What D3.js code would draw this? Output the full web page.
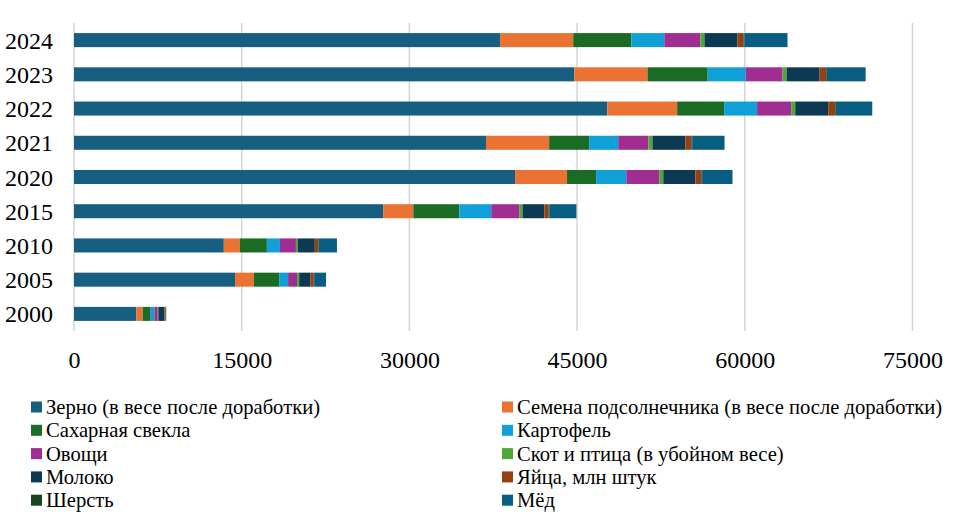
<!DOCTYPE html>
<html>
<head>
<meta charset="utf-8">
<script src="https://cdn.jsdelivr.net/npm/d3@7"></script>
<style>
  body { margin: 0; background: #fff; }
</style>
</head>
<body>
<svg id="chart" width="956" height="525"></svg>
<script>
// years, top to bottom as in the picture
var years = ['2024', '2023', '2022', '2021', '2020', '2015', '2010', '2005', '2000'];

var grain     = [38100, 44750, 47700, 36850, 39450, 27650, 13400, 14400, 5570];
var sunflower = [6550, 6550, 6250, 5650, 4650, 2700, 1430, 1700, 570];
var sugarBeet = [5200, 5380, 4200, 3580, 2600, 4120, 2420, 2250, 720];
var potato    = [2950, 3400, 2950, 2600, 2700, 2850, 1170, 800, 330];
var vegetable = [3230, 3300, 3050, 2700, 2950, 2530, 1430, 800, 300];
var livestock = [360, 360, 360, 360, 360, 270, 150, 190, 60];
var milk      = [2950, 2950, 2950, 2950, 2870, 1950, 1540, 990, 540];
var eggs      = [560, 600, 630, 540, 540, 380, 310, 300, 90];
var wool      = [60, 60, 60, 60, 60, 60, 50, 50, 40];
var honey     = [3860, 3460, 3250, 2900, 2720, 2430, 1620, 1060, 30];

var xTicks = [0, 15000, 30000, 45000, 60000, 75000];

var series = [
    {key: 'grain',     name: 'Зерно (в весе после доработки)',                values: grain,     color: '#165f80'},
    {key: 'sunflower', name: 'Семена подсолнечника (в весе после доработки)', values: sunflower, color: '#ea7334'},
    {key: 'sugarBeet', name: 'Сахарная свекла',                               values: sugarBeet, color: '#1b6b24'},
    {key: 'potato',    name: 'Картофель',                                     values: potato,    color: '#10a0d8'},
    {key: 'vegetable', name: 'Овощи',                                         values: vegetable, color: '#a02d91'},
    {key: 'livestock', name: 'Скот и птица (в убойном весе)',                 values: livestock, color: '#4ea833'},
    {key: 'milk',      name: 'Молоко',                                        values: milk,      color: '#0d3a52'},
    {key: 'eggs',      name: 'Яйца, млн штук',                                values: eggs,      color: '#944012'},
    {key: 'wool',      name: 'Шерсть',                                        values: wool,      color: '#17451f'},
    {key: 'honey',     name: 'Мёд',                                           values: honey,     color: '#085e82'}
];

var textStyle = function(size) {
    return "font-family:'Liberation Serif', serif;font-size:" + size + "px;fill:#000";
};

var rows = years.map(function(y, i) {
    var r = {year: y};
    series.forEach(function(s) { r[s.key] = s.values[i]; });
    return r;
});

var svg = d3.select('#chart');

var x = d3.scaleLinear().domain([0, 75000]).range([74, 912.5]);
var y = d3.scaleBand().domain(years).range([23, 331]).paddingInner(0.59).paddingOuter(0.295);

// grid
svg.append('g').selectAll('line')
    .data(xTicks)
    .join('line')
    .attr('x1', function(d) { return x(d); })
    .attr('x2', function(d) { return x(d); })
    .attr('y1', 23)
    .attr('y2', 331)
    .attr('stroke', '#d4d4d4')
    .attr('stroke-width', 1.5);

// stacked bars
var stack = d3.stack().keys(series.map(function(s) { return s.key; }));

svg.append('g').selectAll('g')
    .data(stack(rows))
    .join('g')
    .attr('fill', function(d, i) { return series[i].color; })
    .selectAll('rect')
    .data(function(d) { return d; })
    .join('rect')
    .attr('x', function(d) { return x(d[0]); })
    .attr('width', function(d) { return x(d[1]) - x(d[0]); })
    .attr('y', function(d) { return y(d.data.year); })
    .attr('height', y.bandwidth());

// x axis labels
var gx = svg.append('g').attr('transform', 'translate(0,368)')
    .call(d3.axisBottom(x).tickValues(xTicks).tickSize(0).tickPadding(0).tickFormat(d3.format('d')));
gx.attr('font-family', null).attr('font-size', null);
gx.select('.domain').remove();
gx.selectAll('text').attr('fill', null).attr('dy', null).attr('y', 0).attr('style', textStyle(24));

// y axis labels
var gy = svg.append('g').attr('transform', 'translate(53,0)')
    .call(d3.axisLeft(y).tickSize(0).tickPadding(0));
gy.attr('font-family', null).attr('font-size', null);
gy.select('.domain').remove();
gy.selectAll('text').attr('fill', null).attr('dy', null).attr('y', 8.5).attr('style', textStyle(24));

// legend, two columns
var legend = svg.append('g').selectAll('g')
    .data(series)
    .join('g')
    .attr('transform', function(d, i) {
        var col = i % 2, row = Math.floor(i / 2);
        return 'translate(' + (col ? 502 : 31) + ',' + (407 + row * 23.3) + ')';
    });

legend.append('rect')
    .attr('x', 0)
    .attr('y', -5.5)
    .attr('width', 11)
    .attr('height', 11)
    .attr('fill', function(d) { return d.color; });

legend.append('text')
    .attr('x', 15)
    .attr('y', 7)
    .attr('style', textStyle(20.6))
    .text(function(d) { return d.name; });
</script>
</body>
</html>
